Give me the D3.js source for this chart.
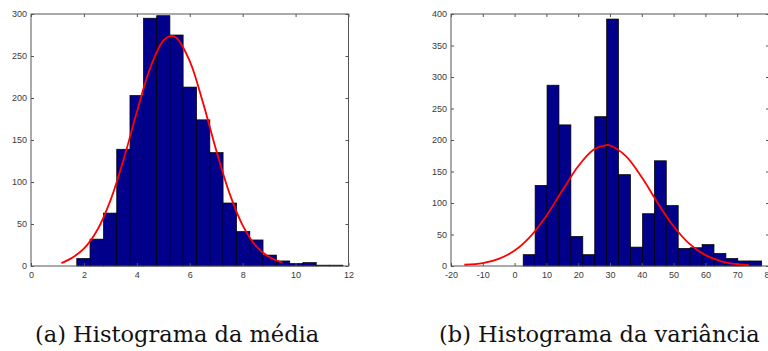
<!DOCTYPE html>
<html>
<head>
<meta charset="utf-8">
<script src="https://cdn.jsdelivr.net/npm/d3@7"></script>
<style>
  html, body { margin: 0; padding: 0; background: #fff; }
  svg { display: block; }
</style>
</head>
<body>
<div id="chart"></div>
<script>
// histogram of the mean (a)
const mediaEdges = [1.73, 2.23, 2.74, 3.24, 3.74, 4.25, 4.75, 5.25, 5.75, 6.26, 6.76,
    7.26, 7.77, 8.27, 8.77, 9.28, 9.78, 10.28, 10.78, 11.29, 11.79];
const mediaCounts = [9, 32, 63, 139, 203, 295, 298, 275, 213, 174, 135, 75, 41, 31, 13, 6, 3, 4, 1, 1];
const mediaCurveX = [1.15, 1.5, 2.0, 2.5, 3.0, 3.5, 4.0, 4.5, 5.0, 5.3, 5.5, 6.0, 6.5, 7.0, 7.5, 8.0, 8.5, 9.0, 9.5];
const mediaCurveY = [3.5, 8.8, 20.6, 42.5, 77.9, 126.8, 183.3, 235.3, 268.2, 274, 271.4, 243.9, 194.5, 137.8, 86.7, 48.4, 24.0, 10.6, 4.1];
const mediaXTicks = [0, 2, 4, 6, 8, 10, 12];
const mediaYTicks = [0, 50, 100, 150, 200, 250, 300];

// histogram of the variance (b)
const varEdges = [2.7, 6.45, 10.2, 13.95, 17.7, 21.45, 25.2, 28.95, 32.7, 36.45, 40.2,
    43.95, 47.7, 51.45, 55.2, 58.95, 62.7, 66.45, 70.2, 73.95, 77.7];
const varCounts = [18, 128, 287, 224, 47, 18, 237, 392, 145, 30, 83, 167, 96, 28, 29, 34, 20, 12, 8, 8];
const varCurveX = [-15.8, -10, -5, 0, 5, 10, 15, 20, 25, 28.8, 30, 35, 40, 45, 50, 55, 60, 65, 70, 73.7];
const varCurveY = [2, 4.6, 11.3, 24.5, 47.1, 79.9, 119.7, 158.4, 185.2, 192, 191.3, 174.5, 140.7, 100.1, 63.0, 35.0, 17.2, 7.5, 2.9, 1.3];
const varXTicks = [-20, -10, 0, 10, 20, 30, 40, 50, 60, 70, 80];
const varYTicks = [0, 50, 100, 150, 200, 250, 300, 350, 400];

const captions = ["(a) Histograma da média", "(b) Histograma da variância"];

const W = 768, H = 351;
const svg = d3.select("#chart").append("svg")
    .attr("width", W)
    .attr("height", H);

function drawHist(opt) {
    const x = d3.scaleLinear().domain(opt.xDomain).range(opt.xRange);
    const y = d3.scaleLinear().domain(opt.yDomain).range([266, 14]);
    const g = svg.append("g");

    const bins = opt.counts.map((c, i) => ({ x0: opt.edges[i], x1: opt.edges[i + 1], n: c }));

    g.selectAll("rect.bar")
        .data(bins)
        .enter()
        .append("rect")
        .attr("class", "bar")
        .attr("x", d => x(d.x0))
        .attr("y", d => y(d.n))
        .attr("width", d => x(d.x1) - x(d.x0))
        .attr("height", d => y(0) - y(d.n))
        .attr("fill", "#00008a")
        .attr("stroke", "#000")
        .attr("stroke-width", 0.7);

    const line = d3.line()
        .x(d => x(d[0]))
        .y(d => y(d[1]))
        .curve(d3.curveCatmullRom);

    g.append("path")
        .attr("d", line(opt.curveX.map((v, i) => [v, opt.curveY[i]])))
        .attr("fill", "none")
        .attr("stroke", "#f00")
        .attr("stroke-width", 1.8);

    // axes with inward ticks, on all four sides like matlab
    const tickFont = g => g.selectAll("text")
        .style("font-family", "Liberation Sans, Arial, sans-serif")
        .style("font-size", "9px")
        .attr("fill", "#3a3a3a");
    const plain = d => String(d);   // keep the ascii hyphen for negatives

    g.append("g")
        .attr("transform", `translate(0,${y.range()[0]})`)
        .call(d3.axisBottom(x).tickValues(opt.xTicks).tickFormat(plain)
            .tickSizeInner(-3).tickSizeOuter(0).tickPadding(6))
        .call(tickFont)
        .call(a => a.select(".domain").remove());
    g.append("g")
        .attr("transform", `translate(${x.range()[0]},0)`)
        .call(d3.axisLeft(y).tickValues(opt.yTicks).tickFormat(plain)
            .tickSizeInner(-3).tickSizeOuter(0).tickPadding(4))
        .call(tickFont)
        .call(a => a.select(".domain").remove());
    g.append("g")
        .attr("transform", `translate(0,${y.range()[1]})`)
        .call(d3.axisTop(x).tickValues(opt.xTicks).tickSizeInner(-3).tickSizeOuter(0).tickFormat(""))
        .call(a => a.select(".domain").remove());
    g.append("g")
        .attr("transform", `translate(${x.range()[1]},0)`)
        .call(d3.axisRight(y).tickValues(opt.yTicks).tickSizeInner(-3).tickSizeOuter(0).tickFormat(""))
        .call(a => a.select(".domain").remove());

    g.selectAll(".tick line").attr("stroke", "#555");

    g.append("rect")
        .attr("x", x.range()[0])
        .attr("y", y.range()[1])
        .attr("width", x.range()[1] - x.range()[0])
        .attr("height", y.range()[0] - y.range()[1])
        .attr("fill", "none")
        .attr("stroke", "#555")
        .attr("stroke-width", 1);

    svg.append("text")
        .attr("x", opt.capX)
        .attr("y", 342)
        .style("font-family", "DejaVu Serif, Liberation Serif, serif")
        .style("font-size", "22.5px")
        .attr("fill", "#111")
        .text(opt.caption);
}

drawHist({
    edges: mediaEdges, counts: mediaCounts,
    curveX: mediaCurveX, curveY: mediaCurveY,
    xTicks: mediaXTicks, yTicks: mediaYTicks,
    xDomain: [0, 12], xRange: [31, 348.5], yDomain: [0, 300],
    caption: captions[0], capX: 35
});

drawHist({
    edges: varEdges, counts: varCounts,
    curveX: varCurveX, curveY: varCurveY,
    xTicks: varXTicks, yTicks: varYTicks,
    xDomain: [-20, 80], xRange: [451, 769], yDomain: [0, 400],
    caption: captions[1], capX: 439
});
</script>
</body>
</html>
